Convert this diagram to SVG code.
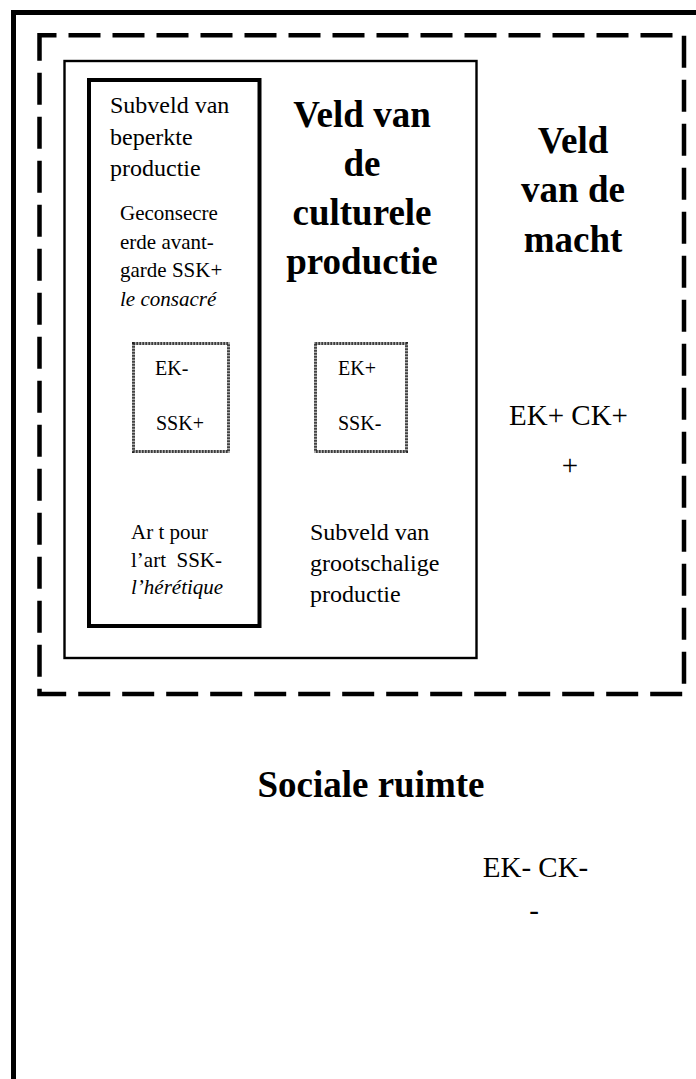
<svg xmlns="http://www.w3.org/2000/svg" width="696" height="1079" viewBox="0 0 696 1079">
<style>
text{font-family:"Liberation Serif","Times New Roman",serif;fill:#000;white-space:pre}
.b{font-weight:bold;font-size:37px;text-anchor:middle}
.m{font-size:24px}
.s{font-size:21px}
.k{font-size:20px}
.l{font-size:29px}
.i{font-style:italic}
.box{fill:none;stroke:#000}
.hatchA{fill:none;stroke:#aaa;stroke-width:3}
.hatchB{fill:none;stroke:#222;stroke-width:3;stroke-dasharray:1.3 1.7}
</style>
<rect width="696" height="1079" fill="#fff"/>
<g id="sociale-ruimte">
<path d="M13.5 1079 V12.5 H696" class="box" stroke-width="5"/>
<text class="b" x="371" y="797">Sociale ruimte</text>
<text class="l" x="535.5" y="877" text-anchor="middle">EK- CK-</text>
<text class="l" x="534" y="920" text-anchor="middle">-</text>
</g>
<g id="veld-van-de-macht">
<rect x="39.5" y="35.3" width="644.5" height="658.7" class="box" stroke-width="4.5" stroke-dasharray="32 12" stroke-dashoffset="15"/>
<text class="b" x="573" y="153">Veld</text>
<text class="b" x="573" y="202">van de</text>
<text class="b" x="573" y="252">macht</text>
<text class="l" x="568.5" y="425" text-anchor="middle">EK+ CK+</text>
<text class="l" x="570" y="475" text-anchor="middle">+</text>
</g>
<g id="veld-culturele-productie">
<rect x="64.5" y="61" width="412" height="597" class="box" stroke-width="2.4"/>
<text class="b" x="362" y="127">Veld van</text>
<text class="b" x="362" y="176">de</text>
<text class="b" x="362" y="225">culturele</text>
<text class="b" x="362" y="274">productie</text>
<text class="m" x="310" y="540">Subveld van</text>
<text class="m" x="310" y="571">grootschalige</text>
<text class="m" x="310" y="602">productie</text>
</g>
<g id="subveld-beperkte-productie">
<rect x="89" y="80" width="170.5" height="546" class="box" stroke-width="4"/>
<text class="m" x="110" y="113">Subveld van</text>
<text class="m" x="110" y="144.5">beperkte</text>
<text class="m" x="110" y="176">productie</text>
<text class="s" x="120" y="220">Geconsecre</text>
<text class="s" x="120" y="248.5">erde avant-</text>
<text class="s" x="120" y="277">garde SSK+</text>
<text class="s i" x="120" y="305.5">le consacré</text>
<text class="s" x="131" y="539">Ar t pour</text>
<text class="s" x="131" y="567">l’art  SSK-</text>
<text class="s i" x="131" y="594">l’hérétique</text>
</g>
<g id="box-ek-min">
<rect x="133.5" y="343.5" width="95" height="108" class="hatchA"/>
<rect x="133.5" y="343.5" width="95" height="108" class="hatchB"/>
<text class="k" x="155" y="375">EK-</text>
<text class="k" x="156" y="430">SSK+</text>
</g>
<g id="box-ek-plus">
<rect x="315.5" y="343.5" width="91" height="108" class="hatchA"/>
<rect x="315.5" y="343.5" width="91" height="108" class="hatchB"/>
<text class="k" x="338" y="375">EK+</text>
<text class="k" x="338" y="430">SSK-</text>
</g>
<g id="connectors"/>
</svg>
